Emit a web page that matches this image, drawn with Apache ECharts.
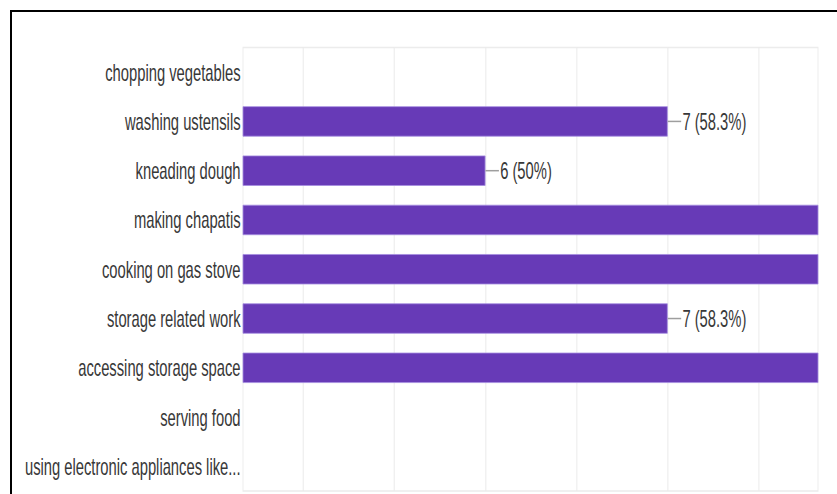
<!DOCTYPE html>
<html>
<head>
<meta charset="utf-8">
<script src="https://cdn.jsdelivr.net/npm/echarts@6/dist/echarts.min.js"></script>
<style>
html,body{margin:0;padding:0;background:#fff;overflow:hidden;}
#frame{position:absolute;left:10px;top:10px;width:900px;height:600px;border-left:2px solid #000;border-top:2px solid #000;box-sizing:border-box;}
#chart{position:absolute;left:0;top:0;width:1361px;height:494px;transform:scaleX(0.615);transform-origin:0 0;}
</style>
</head>
<body>
<div id="frame"></div>
<div id="chart"></div>
<script>
// Categories (top to bottom)
const categories = [
  "chopping vegetables",
  "washing ustensils",
  "kneading dough",
  "making chapatis",
  "cooking on gas stove",
  "storage related work",
  "accessing storage space",
  "serving food",
  "using electronic appliances like..."
];
// Response counts (out of 12 respondents); bars beyond the visible range are clipped
const counts = [0, 7, 6, 10, 10, 7, 10, 0, 0];
const totalRespondents = 12;
// Visible value window of the cropped chart and its gridlines
const axisMin = 4.67;
const axisMax = 7.825;
const gridValues = [5, 5.5, 6, 6.5, 7, 7.5];

// The reference text is horizontally condensed: the chart is drawn wider and squeezed by SX
const SX = 0.615;
const chart = echarts.init(document.getElementById('chart'), null, {renderer: 'svg'});
const FONT = '"Liberation Sans", Arial, sans-serif';

function pct(v) {
  const p = Math.round(v / totalRespondents * 1000) / 10;
  return (p % 1 === 0 ? p.toFixed(0) : p.toFixed(1)) + '%';
}

chart.setOption({
  animation: false,
  grid: {
    left: 243 / SX, top: 47.5, width: 575 / SX, height: 443.5,
    show: true, borderColor: '#ececec', borderWidth: 1.6,
    outerBoundsMode: 'none'
  },
  xAxis: {
    type: 'value', min: axisMin, max: axisMax,
    axisLine: {show: false},
    axisTick: {show: false, customValues: gridValues},
    axisLabel: {show: false, customValues: gridValues},
    splitLine: {show: true, lineStyle: {color: '#eaeaea', width: 1.6}}
  },
  yAxis: {
    type: 'category', data: categories, inverse: true,
    axisLine: {show: false}, axisTick: {show: false},
    axisLabel: {color: '#383838', fontFamily: FONT, fontSize: 24, margin: 4}
  },
  series: [{
    type: 'bar',
    data: counts,
    barCategoryGap: '38%',
    clip: true,
    itemStyle: {color: '#673ab7', borderColor: '#a58ee0', borderWidth: 1},
    label: {
      show: true, position: 'right', distance: 0,
      formatter: function (p) {
        if (p.value <= axisMin || p.value >= axisMax) return '';
        return '{l| }{t|' + p.value + ' (' + pct(p.value) + ')}';
      },
      rich: {
        l: {width: 22, height: 1.5, backgroundColor: '#9e9e9e', verticalAlign: 'middle'},
        t: {color: '#383838', fontFamily: FONT, fontSize: 24, padding: [0, 0, 0, 2]}
      }
    }
  }]
});
</script>
</body>
</html>
